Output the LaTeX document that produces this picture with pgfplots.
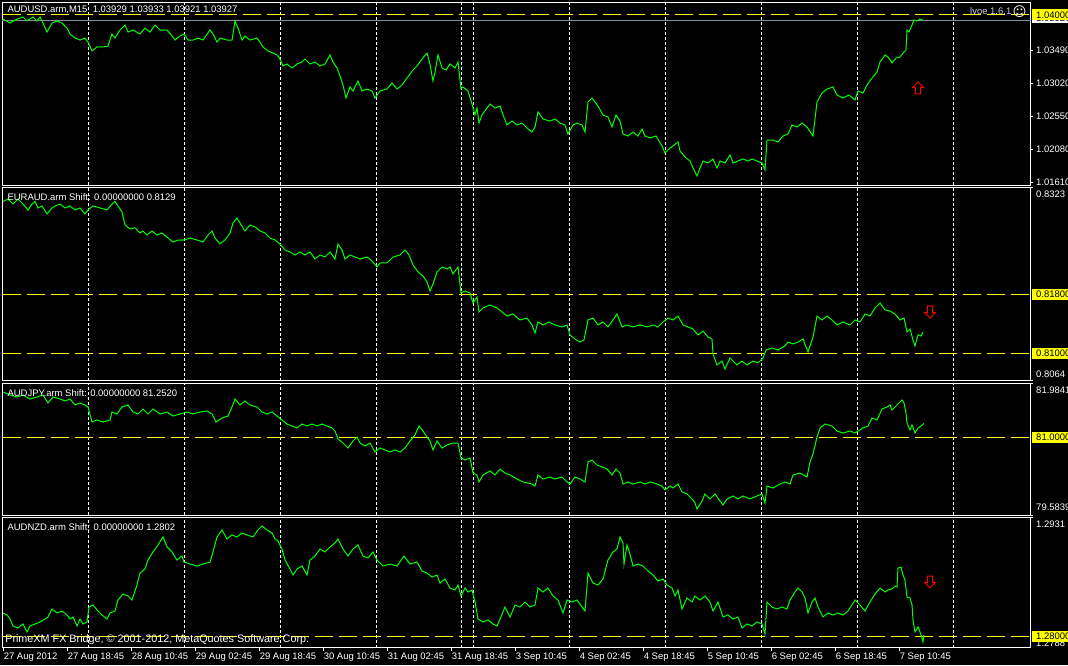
\documentclass[border=0pt]{standalone}
\usepackage{pgfplots}
\pgfplotsset{compat=1.18}
\usepackage{fontspec}
\setmainfont{Liberation Sans}
\newfontfamily\dejavu{DejaVu Sans}
\definecolor{mtgreen}{RGB}{0,255,0}
\definecolor{mtyellow}{RGB}{255,255,0}
\definecolor{bidgrey}{RGB}{128,144,160}
\definecolor{mtred}{RGB}{255,0,0}
\definecolor{lvoegrey}{RGB}{205,205,220}
\newcommand\lbl{\fontsize{7.1pt}{8.5pt}\selectfont}
\pgfplotsset{
 mt/.style={
  scale only axis, width=771pt, xmin=2.5, xmax=1030.5, clip=false, anchor=south west,
  axis line style={white, line width=0.75pt},
  xtick={88.3,184.3,280.3,376.3,461,473,569,665,761,857,953},
  xticklabels={}, xmajorgrids,
  grid style={white, line width=0.75pt, dash pattern=on 2.25pt off 1.5pt},
  xtick style={draw=none},
  ytick pos=right, tick align=outside, major tick length=1.9pt,
  ytick style={white, line width=0.75pt},
  yticklabels={},
 },
 price/.style={mtgreen, line width=0.75pt},
 lvl/.style={mtyellow, line width=0.75pt, dash pattern=on 13.5pt off 4.5pt},
}
\tikzset{
 rlab/.style={anchor=west, text=white, font=\lbl, inner sep=0pt, xshift=4.1pt},
 ylab/.style={anchor=west, fill=mtyellow, text=black, font=\lbl, inner xsep=3.2pt, inner ysep=0pt, minimum height=8.25pt, xshift=0.9pt},
 tlab/.style={anchor=west, text=white, font=\lbl, inner sep=0pt},
 dlab/.style={anchor=west, text=white, font=\lbl, inner sep=0pt, yshift=-7.35pt, xshift=0.4pt},
 uparr/.style={mtred, line width=0.75pt},
}
\begin{document}
\begin{tikzpicture}
\fill[black] (0,0) rectangle (801pt,498.75pt);
\useasboundingbox (0,0) rectangle (801pt,498.75pt);

% ---------------- Panel 1: AUDUSD ----------------
\begin{axis}[mt, at={(1.875pt,359.85pt)}, height=136.875pt, ymin=1.015744, ymax=1.04174,
  ytick={1.0349,1.0302,1.0255,1.0208,1.0161}]
\addplot[lvl] coordinates {(2.5,1.04) (1030.5,1.04)};
\addplot[bidgrey, line width=0.75pt] coordinates {(2.5,1.03927) (1030.5,1.03927)};
\addplot[price] table {
x y
3 1.03941
10 1.03884
17 1.03941
23 1.03970
27 1.03913
33 1.03970
37 1.03913
40 1.03970
43 1.03884
47 1.03756
52 1.03884
57 1.03913
62 1.03884
67 1.03813
70 1.03728
75 1.03671
80 1.03642
85 1.03671
88 1.03614
92 1.03486
97 1.03543
103 1.03543
108 1.03557
112 1.03728
115 1.03671
120 1.03785
125 1.03856
128 1.03756
133 1.03785
140 1.03728
145 1.03813
150 1.03756
155 1.03856
160 1.03785
167 1.03785
172 1.03699
175 1.03642
180 1.03699
184 1.03728
188 1.03642
193 1.03642
198 1.03671
203 1.03642
210 1.03785
213 1.03728
217 1.03614
220 1.03671
227 1.03642
232 1.03642
235 1.03913
238 1.03813
242 1.03642
245 1.03699
250 1.03642
257 1.03671
260 1.03614
263 1.03543
268 1.03486
273 1.03457
277 1.03429
280 1.03372
283 1.03272
287 1.03301
292 1.03244
297 1.03301
302 1.03329
305 1.03372
310 1.03301
315 1.03329
320 1.03272
325 1.03301
330 1.03429
333 1.03329
337 1.03244
340 1.03130
343 1.03001
346 1.02816
350 1.02973
353 1.02916
358 1.03058
362 1.02916
367 1.02944
372 1.02916
375 1.02816
380 1.02916
387 1.02944
392 1.03030
397 1.02944
402 1.03001
407 1.03101
413 1.03215
417 1.03272
422 1.03372
427 1.03457
430 1.03301
433 1.03058
435 1.03187
438 1.03429
442 1.03244
446 1.03215
450 1.03301
455 1.03244
458 1.03329
461 1.02944
463 1.02973
468 1.02916
472 1.02731
475 1.02574
477 1.02674
479 1.02460
482 1.02574
487 1.02674
490 1.02731
495 1.02674
500 1.02702
503 1.02574
507 1.02432
512 1.02489
517 1.02432
522 1.02460
528 1.02375
532 1.02332
535 1.02403
538 1.02617
543 1.02517
550 1.02489
555 1.02517
560 1.02460
565 1.02432
568 1.02304
573 1.02432
577 1.02460
582 1.02432
585 1.02332
588 1.02759
592 1.02816
595 1.02759
598 1.02702
603 1.02574
608 1.02546
612 1.02403
616 1.02574
620 1.02489
623 1.02304
628 1.02275
633 1.02332
638 1.02275
642 1.02375
645 1.02275
650 1.02247
656 1.02275
662 1.02133
665 1.02033
670 1.02104
673 1.02133
678 1.02190
680 1.02062
685 1.01976
690 1.01919
693 1.01819
697 1.01705
700 1.01819
703 1.01919
708 1.01891
713 1.01948
717 1.01819
720 1.01919
725 1.01891
730 1.02005
733 1.01891
738 1.01919
743 1.01948
748 1.01919
752 1.01948
757 1.01919
762 1.01891
765 1.01791
767 1.02218
773 1.02218
778 1.02190
783 1.02275
788 1.02304
792 1.02432
797 1.02403
802 1.02460
807 1.02403
813 1.02275
817 1.02759
822 1.02888
827 1.02944
833 1.02973
837 1.02859
843 1.02816
849 1.02859
855 1.02788
858 1.02916
863 1.02888
867 1.03001
872 1.03101
877 1.03187
880 1.03329
885 1.03429
888 1.03400
892 1.03315
896 1.03386
900 1.03400
904 1.03471
906 1.03500
907 1.03785
909 1.03756
912 1.03856
914 1.03927
917 1.03913
920 1.03941
923 1.03927
};
\node[rlab] at (axis cs:1030.5,1.0349) {1.03490};
\node[rlab] at (axis cs:1030.5,1.0302) {1.03020};
\node[rlab] at (axis cs:1030.5,1.0255) {1.02550};
\node[rlab] at (axis cs:1030.5,1.0208) {1.02080};
\node[rlab] at (axis cs:1030.5,1.0161) {1.01610};
\node[anchor=west, fill=white, text=black, font=\lbl, inner xsep=3.2pt, inner ysep=0pt, minimum height=7.5pt, xshift=0.9pt] at (axis cs:1030.5,1.03949) {1.03927};
\node[ylab] at (axis cs:1030.5,1.04) {1.04000};
\node[tlab, xshift=3.6pt, yshift=-5.1pt] at (rel axis cs:0,1) {AUDUSD.arm,M15~~1.03929 1.03933 1.03921 1.03927};
\node[tlab, text=lvoegrey, xshift=725.6pt, yshift=-6.2pt] at (rel axis cs:0,1) {lvoe 1.6.1};
\node[text=white, inner sep=0pt, font=\dejavu\fontsize{10pt}{10pt}\selectfont, xshift=762.75pt, yshift=-7pt] at (rel axis cs:0,1) {☺};
\draw[uparr] (axis cs:918,1.02959) ++(0pt,4.5pt) -- ++(4.1pt,-4.1pt) -- ++(-2.2pt,0pt) -- ++(0pt,-4.9pt) -- ++(-3.8pt,0pt) -- ++(0pt,4.9pt) -- ++(-2.2pt,0pt) -- cycle;
\end{axis}

% ---------------- Panel 2: EURAUD ----------------
\begin{axis}[mt, at={(1.875pt,213.225pt)}, height=145.05pt, ymin=0.80637, ymax=0.832324,
  ytick={0.8323,0.8064}]
\addplot[lvl] coordinates {(2.5,0.818) (1030.5,0.818)};
\addplot[lvl] coordinates {(2.5,0.81) (1030.5,0.81)};
\addplot[price] table {
x y
3 0.83042
8 0.83075
13 0.83008
18 0.83075
23 0.83008
28 0.82928
32 0.83008
35 0.83042
38 0.82955
42 0.82982
47 0.82874
52 0.82955
55 0.82982
60 0.83008
65 0.82955
70 0.82982
75 0.82928
80 0.82955
85 0.82874
88 0.82928
93 0.82982
100 0.82955
107 0.82928
112 0.83008
115 0.83042
118 0.82982
122 0.82901
125 0.82727
130 0.82673
135 0.82690
140 0.82619
143 0.82646
147 0.82592
152 0.82646
157 0.82592
162 0.82619
168 0.82552
173 0.82498
178 0.82525
184 0.82525
190 0.82552
197 0.82525
203 0.82498
208 0.82592
212 0.82646
215 0.82552
220 0.82472
225 0.82525
230 0.82619
233 0.82753
237 0.82820
240 0.82753
245 0.82646
250 0.82727
255 0.82700
260 0.82646
265 0.82619
270 0.82552
275 0.82525
280 0.82472
285 0.82391
290 0.82364
295 0.82324
300 0.82364
305 0.82324
310 0.82364
315 0.82270
320 0.82324
325 0.82297
330 0.82364
335 0.82270
338 0.82472
342 0.82391
345 0.82270
350 0.82324
355 0.82297
360 0.82270
367 0.82297
372 0.82243
377 0.82163
380 0.82217
387 0.82217
393 0.82297
400 0.82324
405 0.82391
409 0.82324
413 0.82190
418 0.82096
423 0.82042
427 0.81962
430 0.81841
433 0.81935
437 0.82096
442 0.82163
447 0.82136
450 0.82163
453 0.82069
458 0.82163
461 0.81814
465 0.81841
470 0.81814
473 0.81680
477 0.81760
479 0.81559
483 0.81613
490 0.81653
497 0.81613
502 0.81559
507 0.81505
513 0.81532
520 0.81452
527 0.81478
532 0.81385
535 0.81277
538 0.81425
543 0.81385
549 0.81425
555 0.81385
562 0.81358
567 0.81385
570 0.81250
575 0.81197
580 0.81156
584 0.81183
588 0.81452
593 0.81478
598 0.81385
603 0.81425
608 0.81358
613 0.81452
617 0.81532
622 0.81358
627 0.81385
633 0.81358
640 0.81385
647 0.81358
653 0.81385
658 0.81358
663 0.81425
668 0.81478
673 0.81452
678 0.81505
683 0.81385
688 0.81358
693 0.81331
698 0.81250
703 0.81304
708 0.81223
712 0.81197
713 0.80995
717 0.80848
722 0.80901
725 0.80794
730 0.80942
737 0.80848
742 0.80901
747 0.80848
753 0.80901
758 0.80875
763 0.80942
766 0.81049
772 0.81076
778 0.81049
785 0.81103
788 0.81156
793 0.81130
798 0.81156
803 0.81197
808 0.81022
813 0.81223
817 0.81505
822 0.81452
827 0.81505
832 0.81452
837 0.81385
843 0.81425
850 0.81385
855 0.81452
860 0.81425
865 0.81532
870 0.81505
875 0.81613
880 0.81680
885 0.81586
890 0.81572
895 0.81532
900 0.81452
904 0.81478
907 0.81291
910 0.81331
913 0.81183
915 0.81103
918 0.81250
921 0.81237
923 0.81290
};
\node[rlab] at (axis cs:1030.5,0.83139) {0.8323};
\node[rlab] at (axis cs:1030.5,0.80723) {0.8064};
\node[ylab] at (axis cs:1030.5,0.818) {0.81800};
\node[ylab] at (axis cs:1030.5,0.81) {0.81000};
\node[tlab, xshift=3.6pt, yshift=-7.5pt] at (rel axis cs:0,1) {EURAUD.arm Shift: 0.00000000 0.8129};
\draw[uparr] (axis cs:930,0.81559) ++(0pt,-4.5pt) -- ++(4.1pt,4.1pt) -- ++(-2.2pt,0pt) -- ++(0pt,4.9pt) -- ++(-3.8pt,0pt) -- ++(0pt,-4.9pt) -- ++(-2.2pt,0pt) -- cycle;
\end{axis}

% ---------------- Panel 3: AUDJPY ----------------
\begin{axis}[mt, at={(1.875pt,112.35pt)}, height=98.925pt, ymin=79.58028, ymax=81.98416,
  ytick={81.9841,79.5839}]
\addplot[lvl] coordinates {(2.5,81) (1030.5,81)};
\addplot[price] table {
x y
3 81.826
10 81.771
17 81.734
23 81.771
30 81.698
37 81.734
43 81.771
48 81.625
53 81.734
60 81.698
65 81.662
70 81.698
75 81.589
80 81.625
85 81.589
88 81.552
92 81.279
97 81.315
103 81.279
110 81.315
112 81.461
117 81.425
122 81.552
128 81.589
133 81.461
138 81.425
143 81.516
148 81.425
153 81.516
160 81.425
167 81.461
173 81.388
180 81.425
187 81.461
193 81.425
200 81.461
207 81.479
212 81.425
216 81.279
222 81.352
228 81.388
232 81.552
235 81.698
240 81.589
245 81.662
250 81.589
257 81.552
262 81.461
267 81.425
272 81.461
277 81.388
282 81.315
287 81.242
292 81.206
297 81.170
302 81.242
307 81.206
312 81.242
317 81.206
322 81.242
327 81.206
332 81.170
335 81.115
338 80.969
343 80.896
348 80.805
353 80.933
357 81.006
360 80.896
365 80.841
370 80.896
375 80.732
380 80.805
385 80.769
390 80.732
395 80.769
400 80.732
405 80.805
410 80.933
415 81.042
419 81.206
423 81.115
427 81.006
430 80.933
433 80.769
437 80.933
442 80.805
447 80.860
453 80.896
458 80.896
461 80.623
465 80.586
470 80.623
473 80.349
477 80.313
479 80.185
483 80.313
490 80.386
495 80.313
500 80.422
505 80.349
510 80.313
517 80.240
523 80.185
532 80.149
535 80.112
538 80.313
543 80.240
550 80.276
555 80.240
562 80.276
567 80.185
570 80.149
575 80.276
580 80.240
585 80.185
588 80.550
592 80.586
597 80.495
602 80.459
607 80.422
612 80.313
616 80.422
620 80.349
623 80.149
628 80.185
633 80.149
640 80.185
645 80.149
650 80.185
657 80.149
662 80.112
665 80.040
670 80.112
673 80.076
678 80.149
682 80.003
687 79.967
692 79.876
695 79.803
697 79.693
702 79.839
705 79.967
710 79.876
715 79.967
720 79.839
723 79.766
727 79.876
733 79.930
738 79.876
743 79.930
750 79.876
757 79.930
762 79.967
765 79.803
767 80.112
773 80.076
780 80.149
785 80.185
790 80.149
793 80.313
800 80.349
807 80.276
810 80.550
813 80.696
817 81.006
820 81.170
825 81.242
832 81.206
837 81.115
843 81.078
850 81.115
855 81.078
858 81.115
863 81.170
868 81.206
872 81.352
877 81.315
882 81.516
887 81.552
890 81.589
892 81.498
897 81.589
902 81.680
904 81.625
906 81.443
907 81.261
910 81.133
912 81.224
915 81.078
918 81.170
921 81.206
924 81.252
};
\node[rlab] at (axis cs:1030.5,81.8493) {81.9841};
\node[rlab] at (axis cs:1030.5,79.717) {79.5839};
\node[ylab] at (axis cs:1030.5,81) {81.0000};
\node[tlab, xshift=3.6pt, yshift=-7.6pt] at (rel axis cs:0,1) {AUDJPY.arm Shift: 0.00000000 81.2520};
\end{axis}

% ---------------- Panel 4: AUDNZD ----------------
\begin{axis}[mt, at={(1.875pt,12.975pt)}, height=97.5pt, ymin=1.278788, ymax=1.293101,
  ytick={1.2931}]
\addplot[lvl] coordinates {(2.5,1.28) (1030.5,1.28)};
\addplot[price] table {
x y
3 1.28261
7 1.28239
10 1.28195
13 1.28118
18 1.28096
23 1.28140
27 1.28052
30 1.28118
35 1.28140
40 1.28162
45 1.28195
48 1.28217
52 1.28305
57 1.28261
62 1.28283
67 1.28239
70 1.28195
73 1.28217
77 1.28118
80 1.28195
83 1.28140
87 1.28162
89 1.28327
93 1.28349
98 1.28283
102 1.28239
107 1.28195
110 1.28261
115 1.28283
118 1.28404
123 1.28470
128 1.28448
132 1.28404
137 1.28569
140 1.28701
145 1.28745
148 1.28844
153 1.28933
158 1.29010
163 1.29098
167 1.28988
172 1.28933
177 1.28844
182 1.28888
184 1.28822
190 1.28800
197 1.28778
203 1.28800
210 1.28822
213 1.28933
217 1.29098
222 1.29175
227 1.29076
232 1.29120
237 1.29098
242 1.29142
247 1.29120
253 1.29098
258 1.29175
262 1.29219
267 1.29175
272 1.29142
275 1.29076
278 1.29054
282 1.28966
285 1.28844
290 1.28745
293 1.28679
297 1.28745
302 1.28778
307 1.28679
310 1.28844
315 1.28888
320 1.28966
325 1.28933
330 1.28988
335 1.29032
338 1.29076
343 1.28966
348 1.28888
353 1.28966
358 1.29010
363 1.28888
368 1.28866
373 1.28933
377 1.28844
383 1.28778
390 1.28800
397 1.28778
404 1.28888
410 1.28800
417 1.28822
422 1.28723
427 1.28701
432 1.28657
437 1.28679
440 1.28591
445 1.28635
450 1.28536
455 1.28514
458 1.28569
461 1.28448
465 1.28536
468 1.28492
472 1.28514
475 1.28382
478 1.28195
483 1.28162
488 1.28184
493 1.28140
497 1.28118
500 1.28195
505 1.28327
510 1.28217
515 1.28349
520 1.28327
525 1.28382
530 1.28327
535 1.28349
538 1.28536
543 1.28492
548 1.28536
553 1.28448
558 1.28404
563 1.28261
567 1.28404
572 1.28382
577 1.28404
582 1.28327
585 1.28283
588 1.28701
593 1.28591
598 1.28569
603 1.28635
608 1.28844
613 1.28933
617 1.28966
620 1.29098
623 1.29032
624 1.28800
627 1.29010
630 1.28911
633 1.28778
638 1.28800
643 1.28778
648 1.28723
653 1.28679
658 1.28613
663 1.28635
667 1.28569
672 1.28536
675 1.28448
678 1.28514
682 1.28305
687 1.28426
692 1.28382
695 1.28448
700 1.28404
705 1.28448
710 1.28382
713 1.28283
718 1.28382
723 1.28217
728 1.28239
733 1.28195
738 1.28217
742 1.28096
747 1.28140
752 1.28118
757 1.28162
762 1.28140
765 1.28030
767 1.28382
772 1.28327
777 1.28305
782 1.28327
787 1.28305
790 1.28404
795 1.28492
798 1.28536
802 1.28492
805 1.28426
808 1.28261
812 1.28382
815 1.28426
818 1.28327
823 1.28217
828 1.28261
833 1.28239
838 1.28261
843 1.28239
848 1.28283
855 1.28404
860 1.28349
865 1.28283
870 1.28382
875 1.28470
880 1.28536
885 1.28492
888 1.28514
892 1.28525
895 1.28558
897 1.28547
898 1.28756
901 1.28767
903 1.28679
905 1.28624
907 1.28437
910 1.28426
912 1.28349
913 1.28184
915 1.28052
918 1.28107
920 1.28052
922 1.27986
923 1.27942
924 1.28020
};
\node[rlab] at (axis cs:1030.5,1.29237) {1.2931};
\node[rlab] at (axis cs:1030.5,1.27925) {1.2788};
\node[ylab] at (axis cs:1030.5,1.28) {1.28000};
\node[tlab, xshift=3.6pt, yshift=-7.35pt] at (rel axis cs:0,1) {AUDNZD.arm Shift: 0.00000000 1.2802};
\node[tlab, font=\fontsize{8.1pt}{9pt}\selectfont, xshift=1.9pt, yshift=5.8pt] at (rel axis cs:0,0) {PrimeXM FX Bridge, © 2001-2012, MetaQuotes Software Corp.};
\draw[uparr] (axis cs:930,1.28602) ++(0pt,-4.5pt) -- ++(4.1pt,4.1pt) -- ++(-2.2pt,0pt) -- ++(0pt,4.9pt) -- ++(-3.8pt,0pt) -- ++(0pt,-4.9pt) -- ++(-2.2pt,0pt) -- cycle;
\pgfplotsinvokeforeach{3,67,131,195,259,323,387,451,515,579,643,707,771,835,899}{
  \draw[white, line width=0.75pt] (axis cs:#1,1.278788) -- ++(0pt,-2.4pt);
}
\node[dlab] at (axis cs:3,1.278788) {27 Aug 2012};
\node[dlab] at (axis cs:67,1.278788) {27 Aug 18:45};
\node[dlab] at (axis cs:131,1.278788) {28 Aug 10:45};
\node[dlab] at (axis cs:195,1.278788) {29 Aug 02:45};
\node[dlab] at (axis cs:259,1.278788) {29 Aug 18:45};
\node[dlab] at (axis cs:323,1.278788) {30 Aug 10:45};
\node[dlab] at (axis cs:387,1.278788) {31 Aug 02:45};
\node[dlab] at (axis cs:451,1.278788) {31 Aug 18:45};
\node[dlab] at (axis cs:515,1.278788) {3 Sep 10:45};
\node[dlab] at (axis cs:579,1.278788) {4 Sep 02:45};
\node[dlab] at (axis cs:643,1.278788) {4 Sep 18:45};
\node[dlab] at (axis cs:707,1.278788) {5 Sep 10:45};
\node[dlab] at (axis cs:771,1.278788) {6 Sep 02:45};
\node[dlab] at (axis cs:835,1.278788) {6 Sep 18:45};
\node[dlab] at (axis cs:899,1.278788) {7 Sep 10:45};
\end{axis}
\end{tikzpicture}
\end{document}
